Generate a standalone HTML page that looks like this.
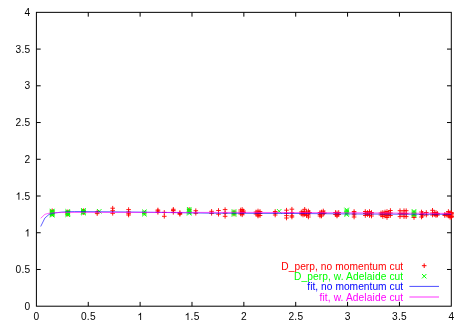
<!DOCTYPE html>
<html><head><meta charset="utf-8"><title>plot</title>
<style>html,body{margin:0;padding:0;background:#fff}svg{display:block;will-change:transform}text{font-family:"Liberation Sans",sans-serif;font-size:10.2px;fill:#000}</style></head>
<body>
<svg width="469" height="327" viewBox="0 0 469 327">
<rect x="0" y="0" width="469" height="327" fill="#fff"/>
<g stroke="#000" stroke-width="1" fill="none">
<rect x="36.4" y="12.35" width="414.90" height="293.85"/>
<path d="M36.4,269.47h4.3M451.3,269.47h-4.3M88.26,306.2v-4.3M88.26,12.35v4.3M36.4,232.74h4.3M451.3,232.74h-4.3M140.12,306.2v-4.3M140.12,12.35v4.3M36.4,196.01h4.3M451.3,196.01h-4.3M191.99,306.2v-4.3M191.99,12.35v4.3M36.4,159.28h4.3M451.3,159.28h-4.3M243.85,306.2v-4.3M243.85,12.35v4.3M36.4,122.54h4.3M451.3,122.54h-4.3M295.71,306.2v-4.3M295.71,12.35v4.3M36.4,85.81h4.3M451.3,85.81h-4.3M347.57,306.2v-4.3M347.57,12.35v4.3M36.4,49.08h4.3M451.3,49.08h-4.3M399.44,306.2v-4.3M399.44,12.35v4.3"/>
</g>
<path d="M49.9,210.8h4.6M52.2,208.5v4.6M49.9,212.0h4.6M52.2,209.7v4.6M49.9,213.0h4.6M52.2,210.7v4.6M49.9,214.0h4.6M52.2,211.7v4.6M65.5,211.8h4.6M67.8,209.5v4.6M65.5,212.5h4.6M67.8,210.2v4.6M65.5,213.5h4.6M67.8,211.2v4.6M65.5,214.2h4.6M67.8,211.9v4.6M81.1,210.7h4.6M83.4,208.4v4.6M81.1,211.5h4.6M83.4,209.2v4.6M81.1,212.6h4.6M83.4,210.3v4.6M94.9,212.0h4.6M97.2,209.7v4.6M94.9,213.6h4.6M97.2,211.3v4.6M110.4,208.2h4.6M112.7,205.9v4.6M110.4,210.7h4.6M112.7,208.4v4.6M110.4,213.3h4.6M112.7,211.0v4.6M126.3,209.6h4.6M128.6,207.3v4.6M126.3,212.0h4.6M128.6,209.7v4.6M126.3,213.7h4.6M128.6,211.4v4.6M126.3,215.0h4.6M128.6,212.7v4.6M142.0,213.0h4.6M144.3,210.7v4.6M155.6,210.0h4.6M157.9,207.7v4.6M155.6,211.0h4.6M157.9,208.7v4.6M155.6,212.3h4.6M157.9,210.0v4.6M162.0,212.4h4.6M164.3,210.1v4.6M162.0,216.3h4.6M164.3,214.0v4.6M171.0,209.3h4.6M173.3,207.0v4.6M171.0,210.5h4.6M173.3,208.2v4.6M171.0,212.3h4.6M173.3,210.0v4.6M177.6,212.5h4.6M179.9,210.2v4.6M177.6,213.5h4.6M179.9,211.2v4.6M177.6,214.3h4.6M179.9,212.0v4.6M186.9,209.5h4.6M189.2,207.2v4.6M193.5,210.7h4.6M195.8,208.4v4.6M193.5,213.2h4.6M195.8,210.9v4.6M209.3,211.3h4.6M211.6,209.0v4.6M209.3,213.3h4.6M211.6,211.0v4.6M216.2,210.5h4.6M218.5,208.2v4.6M216.2,214.2h4.6M218.5,211.9v4.6M222.8,209.6h4.6M225.1,207.3v4.6M222.8,213.1h4.6M225.1,210.8v4.6M222.8,216.3h4.6M225.1,214.0v4.6M231.7,212.0h4.6M234.0,209.7v4.6M231.7,214.0h4.6M234.0,211.7v4.6M238.4,210.0h4.6M240.7,207.7v4.6M238.4,212.0h4.6M240.7,209.7v4.6M238.4,214.0h4.6M240.7,211.7v4.6M239.9,209.5h4.6M242.2,207.2v4.6M239.9,211.5h4.6M242.2,209.2v4.6M239.9,213.0h4.6M242.2,210.7v4.6M239.9,214.8h4.6M242.2,212.5v4.6M241.3,211.0h4.6M243.6,208.7v4.6M241.3,212.5h4.6M243.6,210.2v4.6M253.7,212.0h4.6M256.0,209.7v4.6M253.7,214.0h4.6M256.0,211.7v4.6M255.7,211.0h4.6M258.0,208.7v4.6M255.7,213.0h4.6M258.0,210.7v4.6M255.7,215.0h4.6M258.0,212.7v4.6M255.7,216.0h4.6M258.0,213.7v4.6M257.7,211.5h4.6M260.0,209.2v4.6M257.7,213.5h4.6M260.0,211.2v4.6M257.7,215.5h4.6M260.0,213.2v4.6M272.9,211.5h4.6M275.2,209.2v4.6M272.9,213.0h4.6M275.2,210.7v4.6M272.9,215.0h4.6M275.2,212.7v4.6M284.2,210.2h4.6M286.5,207.9v4.6M284.2,213.1h4.6M286.5,210.8v4.6M284.2,215.6h4.6M286.5,213.3v4.6M284.2,218.0h4.6M286.5,215.7v4.6M289.6,209.2h4.6M291.9,206.9v4.6M289.6,212.8h4.6M291.9,210.5v4.6M289.6,215.8h4.6M291.9,213.5v4.6M289.6,217.0h4.6M291.9,214.7v4.6M299.0,212.0h4.6M301.3,209.7v4.6M299.0,214.0h4.6M301.3,211.7v4.6M300.7,211.5h4.6M303.0,209.2v4.6M300.7,213.5h4.6M303.0,211.2v4.6M300.7,215.0h4.6M303.0,212.7v4.6M302.4,209.3h4.6M304.7,207.0v4.6M302.4,212.5h4.6M304.7,210.2v4.6M302.4,214.5h4.6M304.7,212.2v4.6M304.2,212.0h4.6M306.5,209.7v4.6M304.2,214.0h4.6M306.5,211.7v4.6M304.2,215.5h4.6M306.5,213.2v4.6M306.1,211.0h4.6M308.4,208.7v4.6M306.1,213.2h4.6M308.4,210.9v4.6M306.1,215.0h4.6M308.4,212.7v4.6M306.1,217.0h4.6M308.4,214.7v4.6M307.2,212.5h4.6M309.5,210.2v4.6M317.7,212.5h4.6M320.0,210.2v4.6M317.7,214.5h4.6M320.0,212.2v4.6M317.7,216.0h4.6M320.0,213.7v4.6M319.2,212.0h4.6M321.5,209.7v4.6M319.2,214.0h4.6M321.5,211.7v4.6M319.2,216.0h4.6M321.5,213.7v4.6M321.0,211.0h4.6M323.3,208.7v4.6M321.0,213.5h4.6M323.3,211.2v4.6M322.0,213.0h4.6M324.3,210.7v4.6M333.2,212.5h4.6M335.5,210.2v4.6M333.2,214.5h4.6M335.5,212.2v4.6M334.7,213.0h4.6M337.0,210.7v4.6M334.7,215.0h4.6M337.0,212.7v4.6M334.7,216.0h4.6M337.0,213.7v4.6M336.4,212.5h4.6M338.7,210.2v4.6M336.4,214.5h4.6M338.7,212.2v4.6M351.8,211.5h4.6M354.1,209.2v4.6M351.8,213.0h4.6M354.1,210.7v4.6M351.8,214.8h4.6M354.1,212.5v4.6M351.8,217.0h4.6M354.1,214.7v4.6M363.0,211.5h4.6M365.3,209.2v4.6M363.0,213.5h4.6M365.3,211.2v4.6M363.0,215.5h4.6M365.3,213.2v4.6M365.2,212.5h4.6M367.5,210.2v4.6M365.2,214.5h4.6M367.5,212.2v4.6M367.2,211.5h4.6M369.5,209.2v4.6M367.2,213.5h4.6M369.5,211.2v4.6M367.2,215.5h4.6M369.5,213.2v4.6M369.2,212.5h4.6M371.5,210.2v4.6M369.2,214.0h4.6M371.5,211.7v4.6M369.2,216.0h4.6M371.5,213.7v4.6M378.7,213.0h4.6M381.0,210.7v4.6M378.7,215.0h4.6M381.0,212.7v4.6M380.5,212.5h4.6M382.8,210.2v4.6M380.5,214.5h4.6M382.8,212.2v4.6M380.5,216.5h4.6M382.8,214.2v4.6M382.7,212.0h4.6M385.0,209.7v4.6M382.7,214.0h4.6M385.0,211.7v4.6M382.7,216.0h4.6M385.0,213.7v4.6M384.7,211.5h4.6M387.0,209.2v4.6M384.7,213.5h4.6M387.0,211.2v4.6M384.7,215.5h4.6M387.0,213.2v4.6M384.7,217.5h4.6M387.0,215.2v4.6M386.5,213.0h4.6M388.8,210.7v4.6M386.5,215.0h4.6M388.8,212.7v4.6M388.1,210.5h4.6M390.4,208.2v4.6M388.1,213.0h4.6M390.4,210.7v4.6M388.1,215.5h4.6M390.4,213.2v4.6M397.7,210.7h4.6M400.0,208.4v4.6M397.7,213.7h4.6M400.0,211.4v4.6M397.7,216.6h4.6M400.0,214.3v4.6M399.7,213.7h4.6M402.0,211.4v4.6M401.7,210.7h4.6M404.0,208.4v4.6M401.7,213.7h4.6M404.0,211.4v4.6M401.7,216.6h4.6M404.0,214.3v4.6M403.9,210.7h4.6M406.2,208.4v4.6M403.9,213.7h4.6M406.2,211.4v4.6M403.9,216.6h4.6M406.2,214.3v4.6M411.7,213.0h4.6M414.0,210.7v4.6M411.7,215.5h4.6M414.0,213.2v4.6M411.7,217.5h4.6M414.0,215.2v4.6M419.2,212.0h4.6M421.5,209.7v4.6M419.2,214.5h4.6M421.5,212.2v4.6M419.2,217.0h4.6M421.5,214.7v4.6M420.2,213.3h4.6M422.5,211.0v4.6M420.2,215.8h4.6M422.5,213.5v4.6M424.0,212.5h4.6M426.3,210.2v4.6M424.0,215.0h4.6M426.3,212.7v4.6M430.2,210.3h4.6M432.5,208.0v4.6M430.2,213.0h4.6M432.5,210.7v4.6M430.2,215.0h4.6M432.5,212.7v4.6M432.0,212.5h4.6M434.3,210.2v4.6M432.0,214.5h4.6M434.3,212.2v4.6M433.7,212.5h4.6M436.0,210.2v4.6M433.7,214.5h4.6M436.0,212.2v4.6M433.7,215.5h4.6M436.0,213.2v4.6M435.2,213.5h4.6M437.5,211.2v4.6M435.2,215.0h4.6M437.5,212.7v4.6M442.5,214.3h4.6M444.8,212.0v4.6M442.5,215.5h4.6M444.8,213.2v4.6M444.7,213.5h4.6M447.0,211.2v4.6M444.7,215.2h4.6M447.0,212.9v4.6M446.1,211.5h4.6M448.4,209.2v4.6M446.1,214.0h4.6M448.4,211.7v4.6M446.1,216.0h4.6M448.4,213.7v4.6M447.7,212.8h4.6M450.0,210.5v4.6M447.7,214.3h4.6M450.0,212.0v4.6M447.7,215.8h4.6M450.0,213.5v4.6M447.7,217.2h4.6M450.0,214.9v4.6M449.0,212.6h4.6M451.3,210.3v4.6M449.0,213.8h4.6M451.3,211.5v4.6M449.0,215.0h4.6M451.3,212.7v4.6M449.0,216.2h4.6M451.3,213.9v4.6M449.0,217.3h4.6M451.3,215.0v4.6M449.3,213.2h4.6M451.6,210.9v4.6M449.3,216.6h4.6M451.6,214.3v4.6" stroke="#ff0000" stroke-width="0.9" fill="none"/>
<path d="M50.0,208.8l4.4,4.4M50.0,213.2l4.4,-4.4M50.0,209.5l4.4,4.4M50.0,213.9l4.4,-4.4M50.0,210.2l4.4,4.4M50.0,214.6l4.4,-4.4M50.0,210.9l4.4,4.4M50.0,215.3l4.4,-4.4M50.0,211.6l4.4,4.4M50.0,216.0l4.4,-4.4M50.0,212.3l4.4,4.4M50.0,216.7l4.4,-4.4M50.0,213.0l4.4,4.4M50.0,217.4l4.4,-4.4M65.6,209.3l4.4,4.4M65.6,213.7l4.4,-4.4M65.6,210.0l4.4,4.4M65.6,214.3l4.4,-4.4M65.6,210.6l4.4,4.4M65.6,215.0l4.4,-4.4M65.6,211.2l4.4,4.4M65.6,215.6l4.4,-4.4M65.6,211.9l4.4,4.4M65.6,216.3l4.4,-4.4M65.6,212.5l4.4,4.4M65.6,216.9l4.4,-4.4M81.2,208.2l4.4,4.4M81.2,212.6l4.4,-4.4M81.2,208.9l4.4,4.4M81.2,213.2l4.4,-4.4M81.2,209.5l4.4,4.4M81.2,213.9l4.4,-4.4M81.2,210.2l4.4,4.4M81.2,214.5l4.4,-4.4M81.2,210.8l4.4,4.4M81.2,215.2l4.4,-4.4M97.1,209.1l4.4,4.4M97.1,213.5l4.4,-4.4M142.1,209.5l4.4,4.4M142.1,213.9l4.4,-4.4M142.1,210.8l4.4,4.4M142.1,215.2l4.4,-4.4M142.1,212.0l4.4,4.4M142.1,216.4l4.4,-4.4M187.0,207.1l4.4,4.4M187.0,211.5l4.4,-4.4M187.0,208.1l4.4,4.4M187.0,212.5l4.4,-4.4M187.0,209.1l4.4,4.4M187.0,213.5l4.4,-4.4M187.0,210.1l4.4,4.4M187.0,214.5l4.4,-4.4M187.0,211.1l4.4,4.4M187.0,215.5l4.4,-4.4M231.8,209.3l4.4,4.4M231.8,213.7l4.4,-4.4M231.8,210.3l4.4,4.4M231.8,214.7l4.4,-4.4M231.8,211.3l4.4,4.4M231.8,215.7l4.4,-4.4M231.8,212.3l4.4,4.4M231.8,216.7l4.4,-4.4M277.0,209.1l4.4,4.4M277.0,213.5l4.4,-4.4M344.5,207.7l4.4,4.4M344.5,212.1l4.4,-4.4M344.5,208.8l4.4,4.4M344.5,213.2l4.4,-4.4M344.5,210.0l4.4,4.4M344.5,214.4l4.4,-4.4M344.5,211.2l4.4,4.4M344.5,215.6l4.4,-4.4M344.5,212.4l4.4,4.4M344.5,216.8l4.4,-4.4M411.8,209.2l4.4,4.4M411.8,213.6l4.4,-4.4M411.8,210.1l4.4,4.4M411.8,214.5l4.4,-4.4M411.8,211.1l4.4,4.4M411.8,215.5l4.4,-4.4M411.8,212.1l4.4,4.4M411.8,216.5l4.4,-4.4M411.8,213.0l4.4,4.4M411.8,217.4l4.4,-4.4" stroke="#00ff00" stroke-width="0.95" fill="none"/>
<path d="M40.7,226.5 L44.9,218 L49.1,214.4 L53.3,213.2 L57.5,212.6 L61.7,212.1 L65.9,211.9 L70,211.7 L74.3,211.55 L82,211.55 L130,212.0 L160,212.4 L210,213.2 L260,213.4 L300,213.5 L360,214.0 L400,214.2 L451.3,214.3" stroke="#0000ff" stroke-width="0.62" fill="none"/>
<path d="M40.7,218.3 L44.9,214.3 L49.1,213.2 L53.3,212.8 L57.5,212.6 L61.7,212.45 L250,212.4 L300,212.6 L360,212.8 L400,213.1 L451.3,213.4" stroke="#ff00ff" stroke-width="0.62" fill="none"/>
<text x="281.3" y="270.0" textLength="121.9" lengthAdjust="spacing" style="fill:#ff0000">D_perp, no momentum cut</text>
<text x="294.0" y="280.2" textLength="109.2" lengthAdjust="spacing" style="fill:#00ff00">D_perp, w. Adelaide cut</text>
<text x="307.3" y="290.4" textLength="95.9" lengthAdjust="spacing" style="fill:#0000ff">fit, no momentum cut</text>
<text x="319.5" y="300.6" textLength="83.7" lengthAdjust="spacing" style="fill:#ff00ff">fit, w. Adelaide cut</text>
<path d="M421.9,265.7h4.6M424.2,263.4v4.6" stroke="#ff0000" fill="none"/>
<path d="M422.0,274.0l4.4,4.4M422.0,278.4l4.4,-4.4" stroke="#00ff00" fill="none"/>
<path d="M409.4,286.4H439" stroke="#0000ff" stroke-width="0.7" fill="none"/>
<path d="M409.4,297H439" stroke="#ff00ff" stroke-width="0.8" fill="none"/>
<text x="24.56" y="309.85">0</text>
<text x="33.56" y="320.10">0</text>
<text x="15.56" y="273.12">0</text>
<text x="21.48" y="273.12">.</text>
<text x="24.56" y="273.12">5</text>
<text x="80.93" y="320.10">0</text>
<text x="86.84" y="320.10">.</text>
<text x="89.93" y="320.10">5</text>
<path d="M28.36,236.39L27.47,236.39L27.47,230.68Q27.14,230.98 26.62,231.29Q26.09,231.60 25.68,231.76L25.68,230.89Q26.42,230.54 26.98,230.04Q27.54,229.54 27.77,229.07L28.36,229.07Z" fill="#000"/>
<path d="M141.09,320.10L140.19,320.10L140.19,314.39Q139.87,314.69 139.34,315.01Q138.82,315.31 138.40,315.47L138.40,314.60Q139.15,314.25 139.70,313.75Q140.26,313.25 140.50,312.78L141.09,312.78Z" fill="#000"/>
<path d="M19.36,199.66L18.47,199.66L18.47,193.94Q18.14,194.25 17.62,194.56Q17.09,194.87 16.68,195.02L16.68,194.16Q17.42,193.81 17.98,193.31Q18.54,192.81 18.77,192.33L19.36,192.33Z" fill="#000"/>
<text x="21.48" y="199.66">.</text>
<text x="24.56" y="199.66">5</text>
<path d="M188.45,320.10L187.56,320.10L187.56,314.39Q187.23,314.69 186.71,315.01Q186.18,315.31 185.76,315.47L185.76,314.60Q186.51,314.25 187.07,313.75Q187.63,313.25 187.86,312.78L188.45,312.78Z" fill="#000"/>
<text x="190.57" y="320.10">.</text>
<text x="193.65" y="320.10">5</text>
<text x="24.56" y="162.93">2</text>
<text x="241.01" y="320.10">2</text>
<text x="15.56" y="126.19">2</text>
<text x="21.48" y="126.19">.</text>
<text x="24.56" y="126.19">5</text>
<text x="288.38" y="320.10">2</text>
<text x="294.29" y="320.10">.</text>
<text x="297.38" y="320.10">5</text>
<text x="24.56" y="89.46">3</text>
<text x="344.74" y="320.10">3</text>
<text x="15.56" y="52.73">3</text>
<text x="21.48" y="52.73">.</text>
<text x="24.56" y="52.73">5</text>
<text x="392.10" y="320.10">3</text>
<text x="398.02" y="320.10">.</text>
<text x="401.10" y="320.10">5</text>
<text x="24.56" y="16.00">4</text>
<text x="448.46" y="320.10">4</text>
</svg></body></html>
